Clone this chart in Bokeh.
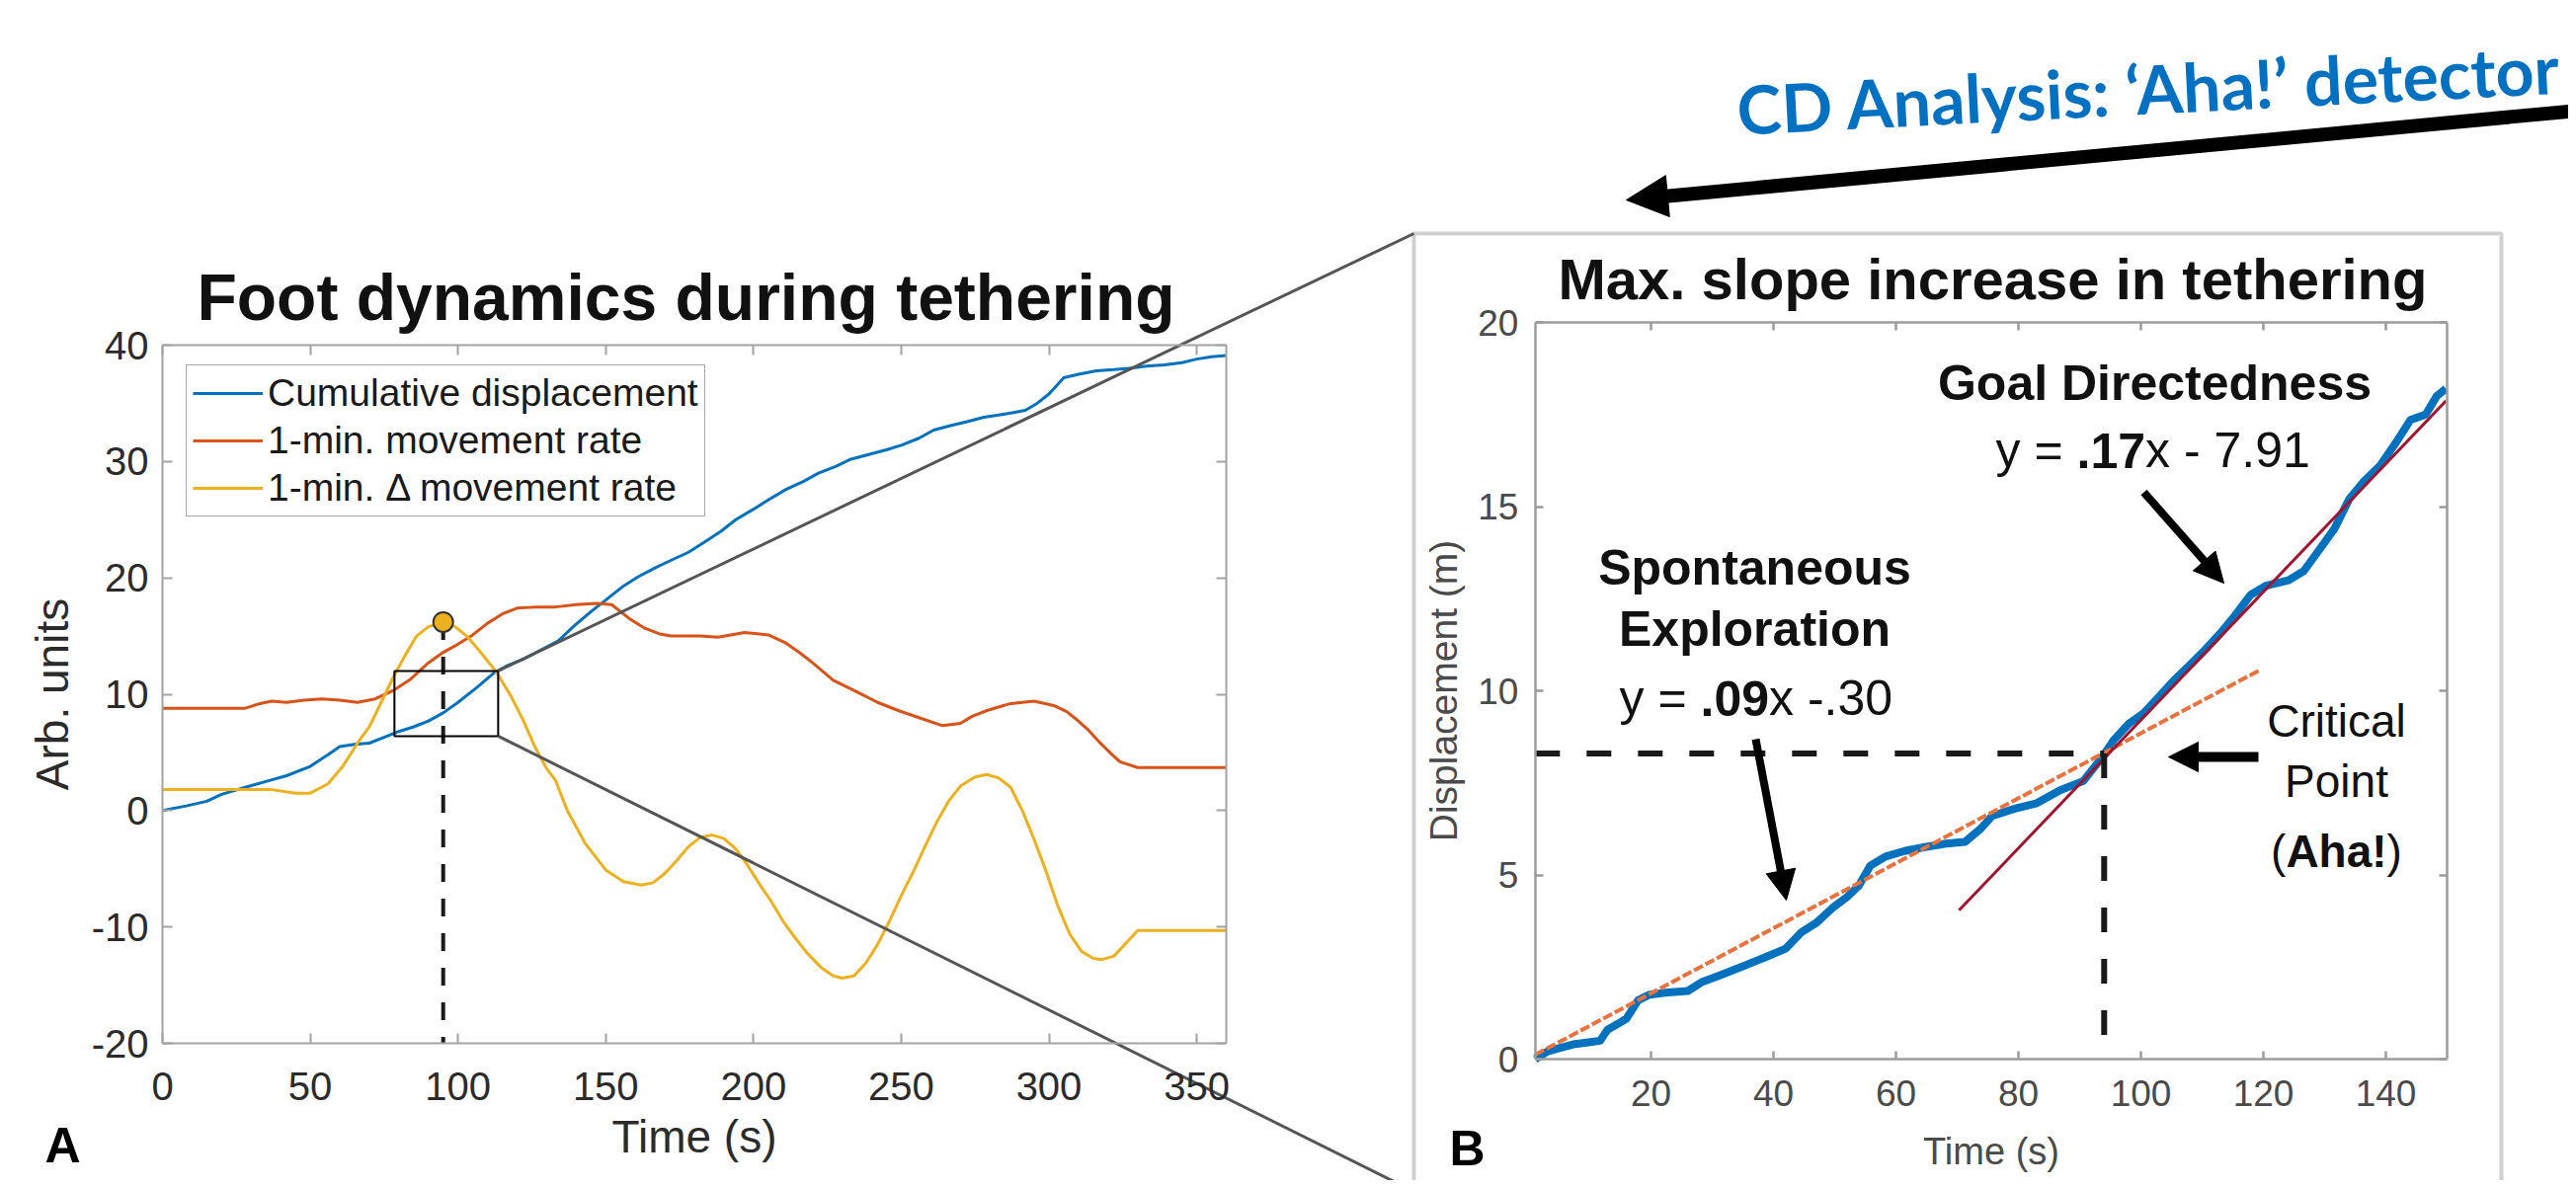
from bokeh.plotting import figure
from bokeh.models import (Range1d, LinearAxis, FixedTicker, Legend, LegendItem,
                          Label, Arrow, NormalHead, BoxAnnotation)
from bokeh.embed import file_html
from bokeh.resources import INLINE

# ---------------------------------------------------------------- data
# Panel A : foot dynamics during tethering
time_cum = [0, 8, 15, 20, 28, 35, 42, 50, 56, 60, 65, 70, 75, 80, 85, 90, 95, 100, 106, 112,
            117, 122, 128, 134, 139, 145, 150, 156, 161, 167, 172, 178, 183, 189, 194, 200,
            205, 211, 217, 222, 228, 233, 239, 245, 250, 256, 261, 267, 272, 278, 283, 288,
            292, 296, 300, 305, 310, 316, 322, 327, 333, 339, 345, 350, 355, 360]
cum_disp = [0.0, 0.4, 0.8, 1.4, 2.0, 2.5, 3.0, 3.8, 4.8, 5.5, 5.7, 5.8, 6.3, 6.8, 7.2, 7.7,
            8.4, 9.3, 10.5, 11.8, 12.5, 13.0, 13.8, 14.6, 15.8, 17.1, 18.1, 19.3, 20.1, 20.9,
            21.5, 22.2, 23.0, 24.0, 25.0, 25.9, 26.7, 27.6, 28.3, 29.0, 29.6, 30.2, 30.6,
            31.0, 31.4, 32.0, 32.7, 33.1, 33.4, 33.8, 34.0, 34.2, 34.4, 35.0, 35.8, 37.2,
            37.5, 37.8, 37.9, 38.0, 38.2, 38.3, 38.5, 38.8, 39.0, 39.1]

time_rate = [0, 28, 33, 37, 42, 48, 54, 60, 66, 72, 78, 84, 90, 95, 100, 105, 110, 115, 120,
             127, 133, 140, 147, 152, 158, 163, 168, 172, 182, 188, 197, 205, 211, 216, 220,
             227, 235, 242, 249, 257, 264, 270, 274, 279, 287, 295, 302, 306, 309, 313, 317,
             321, 324, 330, 360]
move_rate = [8.8, 8.8, 9.2, 9.4, 9.3, 9.5, 9.6, 9.5, 9.3, 9.6, 10.3, 11.3, 12.7, 13.6, 14.3,
             15.1, 16.1, 16.9, 17.4, 17.5, 17.5, 17.7, 17.8, 17.7, 16.5, 15.7, 15.2, 15.0,
             15.0, 14.9, 15.3, 15.1, 14.4, 13.5, 12.7, 11.2, 10.2, 9.3, 8.6, 7.9, 7.3, 7.5,
             8.1, 8.6, 9.2, 9.4, 9.0, 8.5, 7.9, 7.0, 5.9, 4.9, 4.2, 3.7, 3.7]

time_delta = [0, 30, 37, 45, 50, 56, 61, 66, 70, 74, 78, 82, 86, 90, 95, 99, 103, 108, 113,
              118, 122, 126, 130, 133, 137, 143, 150, 156, 162, 166, 170, 174, 178, 182, 186,
              190, 194, 198, 202, 206, 210, 214, 218, 223, 227, 230, 234, 238, 242, 246, 250,
              254, 258, 262, 266, 270, 275, 279, 283, 287, 291, 295, 299, 303, 307, 311, 315,
              318, 322, 326, 330, 360]
delta_rate = [1.8, 1.8, 1.8, 1.5, 1.5, 2.3, 3.8, 5.8, 7.2, 9.3, 11.4, 13.3, 15.0, 15.8, 16.2,
              15.8, 15.0, 13.5, 11.9, 9.8, 7.8, 5.5, 3.6, 2.6, 0.0, -2.8, -5.1, -6.1, -6.4,
              -6.2, -5.4, -4.3, -3.1, -2.3, -2.1, -2.4, -3.3, -4.7, -6.3, -7.8, -9.5, -10.9,
              -12.2, -13.5, -14.2, -14.4, -14.2, -13.1, -11.5, -9.5, -7.3, -5.3, -3.1, -1.0,
              0.8, 2.1, 2.9, 3.1, 2.8, 2.0, 0.0, -2.5, -5.2, -8.2, -10.6, -12.1, -12.7, -12.8,
              -12.5, -11.4, -10.3, -10.3]

peak_time = [95.0]
peak_value = [16.2]
zoom_time = [78.5, 113.6]
zoom_value = [6.4, 12.0]
a_xticks = [0, 50, 100, 150, 200, 250, 300, 350]
a_yticks = [-20, -10, 0, 10, 20, 30, 40]
a_xlim = (0, 360)
a_ylim = (-20, 40)

# Panel B : max. slope increase in tethering
time_b = [1.1, 3, 5, 7.3, 9.5, 11.7, 12.9, 14.5, 16, 17.9, 19.8, 22.2, 26, 28.4, 30.9, 34.7,
          38.4, 42, 44.6, 47, 49.6, 52, 53.9, 55.8, 58.3, 61.4, 64.5, 68.2, 71.3, 73.8, 75.7,
          79.4, 83, 86.8, 90.6, 93.7, 95.5, 98, 100.5, 103, 105.5, 108, 110.4, 112.9, 115.4,
          117.9, 120.4, 124.1, 126.6, 129, 131.6, 134, 136.5, 139, 141.5, 144, 146.5, 148.3,
          149.8]
disp_b = [0.0, 0.2, 0.3, 0.4, 0.45, 0.5, 0.8, 0.95, 1.1, 1.6, 1.75, 1.8, 1.85, 2.1, 2.25, 2.5,
          2.75, 3.0, 3.45, 3.7, 4.1, 4.4, 4.7, 5.25, 5.5, 5.65, 5.75, 5.85, 5.9, 6.25, 6.6,
          6.8, 6.95, 7.3, 7.55, 8.2, 8.65, 9.1, 9.4, 9.85, 10.3, 10.7, 11.1, 11.55, 12.05,
          12.6, 12.85, 13.0, 13.25, 13.8, 14.4, 15.2, 15.7, 16.1, 16.7, 17.35, 17.5, 18.0,
          18.2]
fit_expl_x = [1.1, 119.4]
fit_expl_y = [0.12, 10.56]
fit_goal_x = [70.3, 149.8]
fit_goal_y = [4.04, 17.87]
crit_time = 94.0
crit_disp = 8.3
b_xticks = [20, 40, 60, 80, 100, 120, 140]
b_yticks = [0, 5, 10, 15, 20]
b_xlim = (1.1, 150)
b_ylim = (0, 20)

# ---------------------------------------------------------------- layout (page pixels)
PX0, PX1, PY0, PY1 = 0, 2600, 0, 1195
W, H = PX1 - PX0, PY1 - PY0
A_FRAME = dict(left=164, right=1241, top=349, bottom=1056)
B_X_ANCH = ((1671, 20), (2415, 140))
B_Y_ANCH = ((1072, 0), (326, 20))
B_BOX = dict(left=1431, right=2532, top=236, bottom=1200)

BLUE, RED, YELLOW, CRIMSON, FITORANGE = "#0072BD", "#D95319", "#EDB120", "#A2142F", "#E9733F"
FONT = "Liberation Sans"
MID = 0.3465  # (ascent - descent) / 2 for Liberation Sans: baseline -> box middle


def lin_range(pa, da, pb, db, lo, hi):
    k = (db - da) / (pb - pa)
    return Range1d(start=da + (lo - pa) * k, end=da + (hi - pa) * k)


def a_px(x):
    return A_FRAME["left"] + (x - a_xlim[0]) * (A_FRAME["right"] - A_FRAME["left"]) / (a_xlim[1] - a_xlim[0])


def a_py(y):
    return A_FRAME["bottom"] + (y - a_ylim[0]) * (A_FRAME["top"] - A_FRAME["bottom"]) / (a_ylim[1] - a_ylim[0])


p = figure(width=W, height=H, x_range=Range1d(PX0, PX1), y_range=Range1d(PY1, PY0),
           x_axis_type=None, y_axis_type=None, toolbar_location=None, output_backend="svg",
           min_border=0, outline_line_color=None, title=None)
p.background_fill_color = "white"
p.border_fill_color = "white"

p.extra_x_ranges = {
    "xa": lin_range(A_FRAME["left"], a_xlim[0], A_FRAME["right"], a_xlim[1], PX0, PX1),
    "xb": lin_range(B_X_ANCH[0][0], B_X_ANCH[0][1], B_X_ANCH[1][0], B_X_ANCH[1][1], PX0, PX1),
}
p.extra_y_ranges = {
    "ya": lin_range(A_FRAME["bottom"], a_ylim[0], A_FRAME["top"], a_ylim[1], PY1, PY0),
    "yb": lin_range(B_Y_ANCH[0][0], B_Y_ANCH[0][1], B_Y_ANCH[1][0], B_Y_ANCH[1][1], PY1, PY0),
}


def hyphen_labels(ticks):
    return {t: str(t) for t in ticks if t < 0}


def add_axes(xr, yr, xlim, ylim, xt, yt, axis_color, label_color, fs, tick_len, lw,
             xlabel, ylabel, xlab_fs, ylab_fs, x_stand, y_stand, xl_stand, yl_stand):
    common = dict(x_range_name=xr, y_range_name=yr, axis_line_color=axis_color,
                  axis_line_width=lw, major_tick_line_color=axis_color,
                  major_tick_line_width=lw, major_tick_in=tick_len, major_tick_out=0,
                  minor_tick_line_color=None, major_label_text_font=FONT,
                  major_label_text_font_size=fs, major_label_text_color=label_color,
                  axis_label_text_font=FONT, axis_label_text_font_style="normal",
                  axis_label_text_color=label_color)
    bottom = LinearAxis(fixed_location=ylim[0], bounds=xlim, ticker=FixedTicker(ticks=xt),
                        axis_label=xlabel, axis_label_text_font_size=xlab_fs,
                        major_label_standoff=x_stand, axis_label_standoff=xl_stand,
                        major_label_overrides=hyphen_labels(xt), **common)
    left = LinearAxis(fixed_location=xlim[0], bounds=ylim, ticker=FixedTicker(ticks=yt),
                      axis_label=ylabel, axis_label_text_font_size=ylab_fs,
                      major_label_standoff=y_stand, axis_label_standoff=yl_stand,
                      major_label_overrides=hyphen_labels(yt), **common)
    mirror = dict(common)
    mirror["major_label_text_color"] = None
    top = LinearAxis(fixed_location=ylim[1], bounds=xlim, ticker=FixedTicker(ticks=xt), **mirror)
    right = LinearAxis(fixed_location=xlim[1], bounds=ylim, ticker=FixedTicker(ticks=yt), **mirror)
    p.add_layout(bottom, "below")
    p.add_layout(left, "left")
    p.add_layout(top, "above")
    p.add_layout(right, "right")


def lab(x, y, text, size, bold=False, align="left", color="#111111", font=FONT, mid=MID,
        angle=0.0):
    # y is the text baseline (page pixels); Bokeh anchors the box middle
    p.add_layout(Label(x=x, y=y - mid * size, text=text, text_align=align,
                       text_baseline="middle", text_font=font,
                       text_font_style="bold" if bold else "normal",
                       text_font_size=f"{size}px", text_color=color, angle=angle))


# ---------------- Panel A
add_axes("xa", "ya", a_xlim, a_ylim, a_xticks, a_yticks, "#a3a3a3", "#2b2b2b", "40px", 10, 2,
         "Time (s)", "Arb. units", "46px", "46px", 29, 14, 8, 11)

r_cum = p.line(time_cum, cum_disp, x_range_name="xa", y_range_name="ya",
               line_color=BLUE, line_width=3)
r_rate = p.line(time_rate, move_rate, x_range_name="xa", y_range_name="ya",
                line_color=RED, line_width=3)
r_delta = p.line(time_delta, delta_rate, x_range_name="xa", y_range_name="ya",
                 line_color=YELLOW, line_width=3)
p.line([peak_time[0], peak_time[0]], [peak_value[0], a_ylim[0]], x_range_name="xa",
       y_range_name="ya", line_color="#1a1a1a", line_width=4, line_dash="18 17")
p.scatter(peak_time, peak_value, x_range_name="xa", y_range_name="ya", size=20,
          fill_color=YELLOW, line_color="#333333", line_width=2)
p.quad(left=[zoom_time[0]], right=[zoom_time[1]], bottom=[zoom_value[0]], top=[zoom_value[1]],
       x_range_name="xa", y_range_name="ya", fill_color=None, line_color="black", line_width=2)

legend = Legend(items=[LegendItem(label="Cumulative displacement", renderers=[r_cum]),
                       LegendItem(label="1-min. movement rate", renderers=[r_rate]),
                       LegendItem(label="1-min. \u0394 movement rate", renderers=[r_delta])],
                location=(188, PY1 - 523), label_text_font=FONT, label_text_font_size="39px",
                label_text_color="#1a1a1a", glyph_width=71, glyph_height=42, label_height=42,
                label_standoff=5, spacing=4, padding=6, margin=0,
                border_line_color="#555555", border_line_width=1.5,
                background_fill_color="white", background_fill_alpha=1)
p.add_layout(legend)

# connector lines from the zoom box to panel B
cx0 = a_px(zoom_time[1])
p.segment(x0=[cx0, cx0], y0=[a_py(zoom_value[1]), a_py(zoom_value[0])],
          x1=[B_BOX["left"], B_BOX["left"]], y1=[B_BOX["top"], 1206],
          line_color="#555555", line_width=3)

lab(694, 323, "Foot dynamics during tethering", 66, True, "center")
lab(45, 1177, "A", 50, True, color="black")

# ---------------- Panel B
p.add_layout(BoxAnnotation(left=B_BOX["left"], right=B_BOX["right"], top=B_BOX["top"],
                           bottom=B_BOX["bottom"], fill_color=None, line_color="#646464",
                           line_width=4))
add_axes("xb", "yb", b_xlim, b_ylim, b_xticks, b_yticks, "#9c9c9c", "#4a4a4a", "37px", 8, 2.5,
         "Time (s)", "Displacement (m)", "38px", "39px", 21, 17, 22, 10)

p.line(time_b, disp_b, x_range_name="xb", y_range_name="yb", line_color=BLUE, line_width=8,
       line_join="round")
p.line(fit_expl_x, fit_expl_y, x_range_name="xb", y_range_name="yb", line_color=FITORANGE,
       line_width=4, line_dash="10 3")
p.line(fit_goal_x, fit_goal_y, x_range_name="xb", y_range_name="yb", line_color=CRIMSON,
       line_width=3)
p.line([b_xlim[0], crit_time], [crit_disp, crit_disp], x_range_name="xb", y_range_name="yb",
       line_color="#1a1a1a", line_width=6, line_dash="25 27")
p.line([crit_time, crit_time], [crit_disp, b_ylim[0]], x_range_name="xb", y_range_name="yb",
       line_color="#1a1a1a", line_width=6, line_dash="25 27")

# Arial-compatible advance widths (per em) used to chain mixed bold/regular runs
ADV = {" ": .278, "y": .5, "=": .584, ".": .278, "x": .5, "-": .333, "(": .333, ")": .333,
       "0": .556, "1": .556, "3": .556, "7": .556, "9": .556,
       "A": .722, "h": .611, "a": .556, "!": .333}


def run_line(x, y, parts, size):
    for text, bold in parts:
        lab(x, y, text, size, bold)
        x += sum(ADV[c] for c in text) * size


lab(2017, 302, "Max. slope increase in tethering", 58, True, "center")
lab(2181, 405, "Goal Directedness", 50, True, "center")
run_line(2020, 473, [("y = ", False), (".17", True), ("x - 7.91", False)], 50)
lab(1776, 592, "Spontaneous", 50, True, "center")
lab(1776, 654, "Exploration", 50, True, "center")
run_line(1639, 724, [("y = ", False), (".09", True), ("x -.30", False)], 50)
lab(2365, 745, "Critical", 46, False, "center")
lab(2365, 806, "Point", 46, False, "center")
run_line(2365 - 2.888 * 46 / 2, 877, [("(", False), ("Aha!", True), (")", False)], 46)
lab(1467, 1180, "B", 50, True, color="black")

for (xs, ys, xe, ye, lw, hs) in [(2170, 498, 2251, 590, 8, 30), (1777, 748, 1808, 911, 8, 30),
                                 (2286, 766, 2195, 766, 10, 30)]:
    p.add_layout(Arrow(x_start=xs, y_start=ys, x_end=xe, y_end=ye, line_width=lw,
                       line_color="black",
                       end=NormalHead(size=hs, fill_color="black", line_color="black")))

# ---------------- top annotation
p.add_layout(Arrow(x_start=2615, y_start=111, x_end=1646, y_end=202, line_width=14,
                   line_color="black",
                   end=NormalHead(size=42, fill_color="black", line_color="black")))
lab(1758, 136, "CD Analysis: \u2018Aha!\u2019 detector", 68, True, color="#0070C0",
    font="Lato", mid=0.387, angle=0.0503)

open("out.html", "w").write(file_html(p, INLINE))
